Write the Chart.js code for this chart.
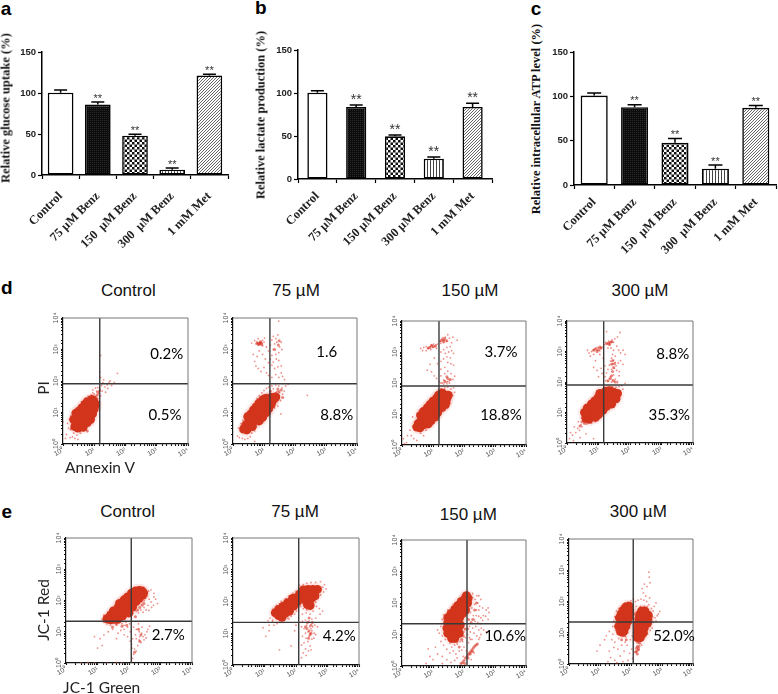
<!DOCTYPE html>
<html>
<head>
<meta charset="utf-8">
<title>Benz figure</title>
<script src="https://cdn.jsdelivr.net/npm/chart.js@4"></script>
<style>
  body { margin: 0; background: #fff; width: 778px; height: 694px; overflow: hidden; position: relative; }
  canvas { position: absolute; }
  .txt { position: absolute; white-space: pre; color: #111; }
  .letter { font: bold 19px "Liberation Sans"; color: #000; }
  .title { font: 17px "Liberation Sans"; }
  .pct { font: 15px Lato; color: #000; }
  .flow { font: 15.5px Lato; color: #222; }
  .ytitle { font: bold 12.5px "Liberation Serif"; color: #111; }
</style>
</head>
<body>
<script>
// bar panels
const barLabelsA = ['Control', '75 µM Benz', '150  µM Benz', '300  µM Benz', '1 mM Met'];
const barLabelsB = ['Control', '75 µM Benz', '150 µM Benz', '300 µM Benz', '1 mM Met'];
const barLabelsC = ['Control', '75 µM Benz', '150  µM Benz', '300  µM Benz', '1 mM Met'];
const glucose = [100.4, 85.9, 48, 6.5, 121.4];
const glucoseTop = [103.6, 89, 49.6, 8.5, 123];
const lactate = [100.4, 83.7, 49.6, 23.6, 83.7];
const lactateTop = [102.7, 86, 51.2, 25.6, 88];
const atp = [100.9, 87.8, 47.6, 18.4, 87];
const atpTop = [103.9, 90.4, 52.5, 22.5, 89.6];
const stars = ['', '**', '**', '**', '**'];
const barTicks = [0, 50, 100, 150];

// flow cytometry panels: dense part of each cloud, then the loose events
const dGate = [[15, 82], [15.5, 82], [15.6, 80], [14.6, 80]];
const eGate = [[118, 21.7], [122, 22], [125, 22], [118, 22]];

const dControlCore = [[2.4,3.6],[3,3.2],[3,4.6],[3.8,4.2],[2.8,5.8],[3.6,5.6],[4.6,5.4],[3.5,7.4],[4.4,7],[5.4,7.4],[4.2,9.4],[5.2,9.2],[6.4,9.6],[5,12],[6.2,12],[7.4,12.5],[6,15.5],[7.2,15.5],[8.4,16],[7.2,20],[8.6,20],[9.6,23],[8.4,26],[2.6,9.5],[3.2,11],[3,8],[2.2,6],[4,14],[5,18],[6,22],[8.8,9],[10,13],[11,18],[7.6,6],[6,4.8],[4.4,3.4]];
const dControlLoose = [[1.3,2],[1.5,3.2],[1.4,4.5],[1.6,6],[1.8,8],[2,10],[2.2,7],[2.4,12],[2.6,9.5],[3,14],[3.2,11],[3.6,17],[4,14],[4,22],[4.6,19],[5.2,28],[5.6,24],[6.4,33],[7,30],[8,36],[9,42],[10,38],[11,33],[12,48],[13,28],[14,40],[15,58],[13,62],[11,60],[9,52],[17,72],[19,88],[20,110],[16,130],[15,190],[26,75],[30,90],[22,64],[18,48],[16,34],[14,22],[12,18],[10.5,13],[9.5,9],[8,8],[6.6,6.5],[5.6,4.2],[4.6,3],[3.6,2.2],[2.8,1.9],[2.2,2.2],[1.7,1.6],[2.4,1.5],[3,1.4],[2,1.7],[1.2,1.5],[16,650],[32,100],[55,175],[36,72],[44,90],[27,58],[23,44],[1,5]];
const dControlFine = [[11,30],[12.5,36],[10,26],[13,44],[15,50],[9,30],[2,4],[2.2,5.6],[1.8,3],[6,2.6],[8,5.6],[11,10]];

const d75Core = [[2.2,3],[2.8,2.8],[2.6,4],[3.4,3.6],[3.2,5],[4.2,4.6],[3.6,6.4],[4.6,6],[5.6,5.8],[4.6,8],[5.8,7.8],[6.8,7.6],[5.6,10],[7,10],[8.4,9.6],[7,13],[8.6,12.8],[10,12.4],[8.6,16.5],[10.4,16],[12,15.5],[10.5,21],[12.6,20],[14.6,19],[13,25],[15.5,24],[18,22],[17,30],[21,27],[24,31],[3.8,9],[4.6,12],[5.6,15],[7,20],[9,25],[11,28],[12,10],[14,13],[9,7],[7,5.4],[17,18],[4.2,3.6],[3,7.4]];
const d75Loose = [[4,1600],[5,1900],[5.5,1500],[6,1750],[6.5,2200],[7,1400],[7.2,1650],[7.5,1500],[8,1800],[8,1450],[8.6,1600],[9,1950],[9,1300],[10,1700],[10.5,2300],[7.6,1600],[6.4,1550],[12,1200],[14,900],[16,1400],[18,2000],[20,2600],[24,2200],[26,1700],[28,2900],[22,1500],[32,1200],[36,1700],[38,1000],[30,800],[24,700],[20,1000],[18,650],[16,500],[20,400],[25,500],[30,450],[36,300],[28,280],[22,250],[18,320],[14,380],[11,500],[9,700],[7,900],[6,600],[5,420],[5.5,300],[4.5,700],[6.5,250],[8,200],[10,270],[12,180],[14,150],[18,130],[24,160],[30,130],[40,140],[36,180],[46,110],[30,8000],[1.4,1.8],[1.7,2.6],[1.6,1.6],[2,1.5],[2.4,1.4],[3,1.5],[3.6,1.7],[4,2.2],[5,2.6],[1.5,3.2],[1.8,4.4],[2.1,5.6],[2.4,7],[2.8,9],[3.2,11],[3.8,14],[4.5,18],[5.2,22],[6,28],[7,34],[8.5,42],[10,50],[12,58],[14,64],[18,70],[24,74],[30,70],[38,60],[45,48],[40,38],[50,70],[32,42],[28,16],[22,14],[18,12],[15,10],[12,8],[9,5.6],[7,4.2],[60,80],[34,24],[26,46],[20,56],[16,44],[250,35],[35,9],[5,1.2]];
const d75Fine = [[6,1600],[7,1550],[8,1600],[7.5,1750],[6.5,1450],[8.5,1450],[31,1900],[29,1400],[22,1000],[24,40],[30,46],[36,52],[28,56],[20,38],[40,30],[16,48],[12,36]];

const d150Core = [[3,3.8],[3.8,3.6],[3.4,5],[4.4,4.6],[5.2,4.6],[4.2,6.2],[5.4,6],[6.4,5.8],[5.2,8],[6.6,7.6],[7.8,7.4],[6.4,10],[8,9.6],[9.4,9],[7.8,13],[9.6,12],[11.4,11.4],[9.6,16],[11.8,15],[13.8,14],[12,20],[14.4,18.5],[16.8,17],[15,25],[18,22],[21,20],[18,31],[22,27],[26,25],[23,36],[28,32],[31,40],[4,9],[5,12],[6.6,16],[8,20],[10,26],[13,32],[11.5,8],[14,11],[8.6,6],[7,4.8],[19,16],[25,20],[15,40],[20,48]];
const d150Loose = [[4,1300],[5,1400],[6,1500],[7,1300],[8,1500],[9,1650],[10,1400],[10.5,1800],[11.5,1500],[12.5,1700],[13,1300],[8.5,1200],[6,1100],[4.6,1100],[14,1800],[17,2200],[19,2600],[21,2900],[23,2400],[25,3000],[27,2200],[22,2000],[18,1900],[30,3600],[34,2800],[40,2000],[44,3000],[36,1500],[28,1400],[22,1200],[18,1000],[25,900],[32,1000],[40,1100],[46,900],[28,700],[36,650],[22,600],[18,500],[30,460],[38,420],[46,380],[24,320],[18,280],[14,420],[11,640],[8,400],[6.5,260],[9,230],[11,170],[13,140],[18,170],[24,200],[30,240],[38,200],[44,130],[50,165],[34,120],[28,110],[22,125],[60,2400],[16,110],[20,100],[1.5,2],[1.8,3],[2,2],[2.4,1.6],[3,1.4],[1.4,1.2],[1.1,1.6],[2.2,4],[2.5,5.5],[2.2,8],[3,10],[3.4,8],[3.6,13],[4.6,16],[5,12],[6,20],[7,26],[8,20],[9,32],[11,40],[10,28],[13,50],[15,60],[18,66],[24,70],[30,74],[38,64],[46,70],[50,50],[44,40],[36,22],[30,16],[24,13],[18,11],[14,9],[10,6],[8,4.4],[6,3],[4,2.4],[5,2],[1.2,1.1],[18,100],[24,120],[30,110],[22,92],[28,95],[34,100]];
const d150Fine = [[8,1400],[10,1500],[12,1550],[7,1350],[9,1650],[18,2300],[21,2500],[24,2700],[28,2300],[22,2200],[30,140],[24,110],[36,130],[28,160],[30,50],[38,48],[24,48],[18,44]];

const d300Core = [[4,6.5],[5,6],[4.6,8.4],[5.8,8],[6.8,7.4],[5.6,11],[7,10.4],[8.2,9.6],[7,14],[8.6,13],[10,12],[8.8,18],[10.6,16.5],[12.6,15],[11,23],[13,21],[15.5,19],[13,29],[16,26],[19,24],[23,22],[14.5,36],[18,33],[22,30],[27,27],[20,42],[25,38],[32,34],[17,50],[23,52],[30,46],[40,42],[3.6,10],[4.4,14],[6,19],[7.6,24],[9.6,30],[11,42],[10,8.5],[14,12],[18,16],[26,19],[8,7],[36,28]];
const d300Loose = [[5,900],[6,1000],[7,1150],[8,1250],[9,1100],[10,1300],[11,1050],[12,1250],[13,1400],[9,1350],[7,800],[5.5,700],[4.5,1100],[15,1700],[17,2000],[19,1800],[21,2200],[23,1700],[25,2100],[27,2400],[30,2000],[33,2600],[20,1300],[25,1300],[30,1100],[38,1500],[44,1100],[50,900],[60,1100],[70,800],[40,3000],[48,4200],[18,4500],[28,800],[34,700],[26,600],[30,520],[24,480],[34,440],[28,400],[22,360],[36,340],[42,420],[50,500],[60,380],[20,260],[26,260],[32,280],[38,240],[46,220],[14,600],[11,800],[8,500],[7,300],[9,240],[12,280],[16,340],[13,190],[10,150],[16,150],[22,130],[28,115],[34,125],[40,105],[26,100],[20,105],[17,110],[24,150],[45,160],[30,170],[18,200],[1.2,1.4],[1.5,1.8],[1.3,2.2],[1.9,2.2],[2.2,3],[1.7,3.4],[2.5,2.6],[2.8,4],[2.3,5],[3,3.4],[3.4,5],[2.9,6.5],[3.4,8],[3.8,10],[4.2,4.2],[4.8,13],[5.6,17],[6.6,22],[7.6,18],[8,28],[9.4,36],[11,44],[12,34],[13,56],[16,66],[20,72],[28,70],[36,68],[45,72],[55,76],[60,58],[50,44],[45,30],[38,24],[30,17],[22,14],[16,10],[12,7.5],[10,6],[8,5],[6,4.4],[1.6,1.2],[2.6,1.5],[7,1.4],[4,2],[70,90],[40,95]];
const d300Fine = [[8,1200],[10,1150],[12,1300],[9,1000],[11,1400],[7,1100],[18,1800],[21,1900],[24,2000],[27,2100],[22,1700],[28,500],[32,400],[26,380],[30,300],[28,220],[24,130],[30,110],[34,100],[20,110],[26,160],[3,5],[3.6,4.4],[2.6,3.6],[3.2,7.6]];

const eControlCore = [[20,26],[26,24],[34,25],[44,25],[26,34],[36,34],[48,33],[62,32],[32,46],[44,46],[58,44],[76,42],[100,40],[46,62],[60,60],[78,56],[100,54],[130,62],[62,82],[80,78],[104,74],[136,84],[170,96],[100,104],[130,110],[170,128],[210,125],[140,150],[180,165],[230,170],[270,150],[210,120],[50,80],[70,105],[90,130],[120,170],[160,200],[210,210],[260,200],[290,175]];
const eControlLoose = [[160,60],[190,70],[220,80],[260,90],[300,100],[340,120],[380,140],[440,110],[500,90],[600,70],[700,110],[800,80],[400,70],[300,60],[240,50],[200,40],[170,45],[280,42],[350,50],[430,48],[520,60],[340,190],[420,200],[500,220],[620,170],[620,130],[150,200],[120,180],[90,140],[240,220],[300,240],[50,90],[40,70],[30,60],[22,44],[16,34],[70,120],[90,150],[110,190],[14,25],[16,20],[20,18],[26,16],[32,20],[40,16],[50,20],[60,18],[70,16],[80,20],[90,14],[105,18],[70,12],[55,11],[45,9],[30,12],[22,10],[16,8],[12,6],[8,7],[10,3],[14,3.6],[40,6],[70,8],[90,7],[110,10],[110,5],[140,14],[170,12],[210,10],[250,9],[280,7],[320,8],[370,10],[260,14],[200,18],[170,6],[210,5.5],[240,4.5],[190,3.6],[150,2.8],[140,1.9],[170,2.4],[130,1.4],[120,1.1],[220,7],[300,5.5],[350,6.3],[400,12],[450,15],[160,8],[130,6],[125,3],[120,4],[3,1],[5,1.05],[8,1],[20,1],[40,1.05],[60,1]];
const eControlFine = [[180,80],[220,60],[260,70],[160,30],[200,12],[240,8],[220,5],[60,15],[85,16],[40,18],[30,14],[300,80],[190,50],[150,2.2]];

const e75Core = [[22,44],[28,36],[36,32],[28,56],[38,50],[48,44],[62,50],[38,70],[50,68],[66,66],[84,72],[54,92],[70,92],[90,94],[112,100],[78,124],[100,130],[130,130],[130,170],[170,170],[160,130],[200,150],[200,110],[250,140],[260,100],[310,170],[380,200],[480,240],[320,130],[400,150],[230,80],[280,75],[190,200],[260,200],[170,230],[240,240],[340,240]];
const e75Loose = [[13,25],[15,30],[18,24],[20,18],[25,20],[14,18],[18,26],[30,25],[42,28],[55,30],[70,35],[90,40],[105,50],[60,28],[18,56],[24,76],[34,100],[46,120],[60,150],[80,180],[100,210],[130,320],[170,340],[220,380],[300,400],[420,400],[600,420],[800,340],[900,250],[750,200],[700,280],[600,160],[500,130],[420,95],[350,80],[280,60],[220,55],[170,60],[140,70],[120,90],[160,40],[210,44],[280,40],[350,50],[450,70],[550,60],[160,24],[200,26],[260,24],[320,28],[420,30],[580,40],[700,50],[150,16],[180,14],[220,18],[270,16],[300,14],[340,16],[400,18],[480,16],[200,10],[240,11],[280,10],[320,12],[380,10],[160,8],[210,7],[260,8],[320,6.5],[370,7],[420,9],[180,5],[240,5.5],[280,4],[150,4.2],[200,3.2],[250,2.8],[170,2.4],[210,2],[150,1.7],[300,3],[14,12],[9,15],[11,8],[30,3],[70,4],[90,12],[100,18]];
const e75Fine = [[220,14],[260,12],[280,9],[300,18],[250,7],[300,10],[230,22],[260,30],[330,22],[200,16]];

const e150Core = [[30,24],[40,22],[52,22],[30,34],[42,32],[56,32],[72,34],[38,46],[52,44],[68,44],[90,46],[50,62],[66,60],[86,60],[112,60],[64,84],[84,82],[108,82],[82,112],[104,108],[130,100],[110,145],[135,140],[120,170],[28,16],[38,15],[50,14],[64,15],[76,20],[30,11],[42,10.5],[56,10],[70,11],[40,7.5],[50,7.5]];
const e150Loose = [[190,150],[230,130],[260,170],[190,200],[150,190],[130,210],[120,190],[220,90],[280,100],[320,80],[400,70],[520,60],[640,50],[600,70],[300,60],[250,60],[180,70],[160,50],[200,40],[250,40],[300,38],[350,34],[420,40],[500,38],[600,30],[180,30],[230,26],[280,24],[340,22],[400,28],[150,18],[190,16],[240,18],[300,14],[360,16],[430,14],[520,12],[160,12],[210,11],[260,9],[320,8],[130,10],[150,8],[180,7],[100,12],[110,8],[90,6],[100,4],[75,6],[60,5],[50,4.6],[40,4],[35,5.4],[25,7],[20,9],[16,11],[18,6],[22,4.6],[28,3.4],[35,2.6],[45,3],[55,2.4],[70,3],[85,3.2],[12,4],[14,2.4],[20,2],[28,1.6],[38,1.3],[50,1.5],[60,1.8],[20,1.2],[10,1.6],[7,3.5],[140,5.5],[120,3],[95,2],[160,7],[24,14],[18,18],[14,14],[20,30],[22,42],[30,60],[45,90],[70,130],[95,160],[300,170],[350,130],[170,1.6],[210,2.6],[300,7],[350,10],[8,2],[6,1.2]];
const e150Fine = [[80,1.2],[90,1.3],[100,1.5],[112,1.8],[125,2],[138,2.3],[150,2.6],[165,2.9],[180,3.3],[200,3.7],[220,4.2],[245,4.6],[270,5],[105,1.2],[135,1.8],[160,2.4],[190,2.9],[140,30],[170,24],[200,30],[130,15],[110,15],[95,9],[85,7],[60,6],[70,4],[220,60],[250,100]];

const e300Core = [[42,30],[54,28],[68,28],[84,30],[48,40],[62,40],[78,40],[94,40],[56,52],[72,52],[90,54],[70,68],[88,70],[60,22],[76,22],[48,20],[40,16],[54,15],[68,16],[46,11],[58,11],[220,50],[280,50],[190,38],[240,38],[300,38],[360,36],[180,28],[230,28],[290,28],[350,26],[170,20],[220,20],[280,20],[340,20],[165,14],[210,14],[265,14],[160,10],[205,10],[250,10],[160,7],[200,7]];
const e300Loose = [[140,100],[170,110],[210,120],[260,110],[320,100],[380,80],[460,60],[560,70],[640,90],[520,50],[430,44],[500,32],[600,30],[700,35],[420,24],[520,22],[640,24],[760,40],[850,48],[400,18],[480,14],[420,12],[340,9],[290,7.5],[250,6],[220,4],[150,70],[150,45],[135,28],[200,70],[270,70],[340,70],[400,130],[300,150],[250,190],[230,260],[270,360],[410,400],[380,870],[390,600],[330,300],[120,120],[34,50],[40,60],[50,74],[60,84],[80,95],[100,105],[115,80],[115,50],[110,30],[28,24],[30,32],[26,16],[32,12],[36,9],[26,9],[20,11],[16,8],[14,6],[10,4],[8,2.6],[24,6],[30,5],[40,6.5],[55,8],[68,7.5],[80,10],[90,14],[100,20],[65,5],[50,4],[38,3],[28,3.4],[20,2.6],[22,1.6],[30,1.3],[45,1.8],[60,2.6],[75,4],[90,2.2],[105,3],[112,1.5],[80,1.3],[55,1.2],[35,1.1],[18,1.2],[95,6],[110,8]];
const e300Fine = [[165,5],[190,4.6],[160,3.6],[175,3],[150,2.5],[170,2.8],[160,2.1],[180,3.6],[150,3.2],[140,2.4],[50,8],[60,8],[75,12],[50,6],[70,6],[200,60],[260,60]];

const superscripts = ['⁰', '¹', '²', '³', '⁴'];

function addText(text, cls, x, y, rotate) {
  const el = document.createElement('div');
  el.className = 'txt ' + cls;
  el.textContent = text;
  el.style.left = x + 'px';
  el.style.top = y + 'px';
  el.style.transform = 'translate(-50%,-50%)' + (rotate ? ' rotate(' + rotate + 'deg)' : '');
  document.body.appendChild(el);
}

function addCanvas(left, top, width, height) {
  const c = document.createElement('canvas');
  c.width = width;
  c.height = height;
  c.style.left = left + 'px';
  c.style.top = top + 'px';
  document.body.appendChild(c);
  return c;
}

// bar fills
function makePattern(size, draw) {
  const p = document.createElement('canvas');
  p.width = size;
  p.height = size;
  const ctx = p.getContext('2d');
  ctx.fillStyle = '#fff';
  ctx.fillRect(0, 0, size, size);
  draw(ctx);
  return document.createElement('canvas').getContext('2d').createPattern(p, 'repeat');
}
const solidDots = makePattern(2, ctx => {
  ctx.fillStyle = '#0c0c0c';
  ctx.fillRect(0, 0, 2, 2);
  ctx.fillStyle = '#2a2a2a';
  ctx.fillRect(0, 0, 1, 1);
});
const checker = makePattern(5, ctx => {
  ctx.fillStyle = '#111';
  ctx.fillRect(0, 0, 2.5, 2.5);
  ctx.fillRect(2.5, 2.5, 2.5, 2.5);
});
const stripes = makePattern(3, ctx => {
  ctx.fillStyle = '#444';
  ctx.fillRect(0, 0, 1, 3);
});
const hatch = makePattern(3, ctx => {
  ctx.fillStyle = '#666';
  ctx.fillRect(2, 0, 1, 1);
  ctx.fillRect(1, 1, 1, 1);
  ctx.fillRect(0, 2, 1, 1);
});
const barFills = ['#fff', solidDots, checker, stripes, hatch];

const errorBars = {
  id: 'errorBars',
  afterDatasetsDraw(chart, args, opts) {
    const ctx = chart.ctx;
    const bars = chart.getDatasetMeta(0).data;
    const y = chart.scales.y;
    ctx.save();
    ctx.strokeStyle = '#000';
    ctx.lineWidth = 1.5;
    opts.tops.forEach((top, i) => {
      const x = bars[i].x;
      const py = y.getPixelForValue(top);
      ctx.beginPath();
      ctx.moveTo(x, y.getPixelForValue(chart.data.datasets[0].data[i]));
      ctx.lineTo(x, py);
      ctx.moveTo(x - opts.cap, py);
      ctx.lineTo(x + opts.cap, py);
      ctx.stroke();
      ctx.fillStyle = '#333';
      ctx.font = opts.star + 'px "Liberation Sans"';
      ctx.textAlign = 'center';
      ctx.textBaseline = 'top';
      ctx.fillText(stars[i], x, py - opts.star + 2);
    });
    ctx.restore();
  }
};

function barChart(labels, values, tops, plot) {
  const yw = 30, xh = 78, pad = 10;
  const c = addCanvas(plot.left - yw, plot.top - pad, plot.right - plot.left + yw + 4, plot.bottom - plot.top + pad + xh);
  new Chart(c, {
    type: 'bar',
    data: {
      labels: labels,
      datasets: [{
        data: values,
        backgroundColor: barFills,
        borderColor: '#000',
        borderWidth: 1.6,
        borderSkipped: false,
        barPercentage: plot.bar,
        categoryPercentage: 1
      }]
    },
    options: {
      responsive: false,
      animation: false,
      layout: { autoPadding: false, padding: { top: pad, right: 4 } },
      plugins: {
        legend: { display: false },
        tooltip: { enabled: false },
        errorBars: { tops: tops, cap: plot.cap, star: plot.star }
      },
      scales: {
        x: {
          afterFit(s) { s.height = xh; },
          border: { color: '#000', width: 1.5 },
          grid: { display: true, drawOnChartArea: false, tickLength: 4, tickColor: '#000', tickWidth: 1.2 },
          ticks: {
            autoSkip: false, minRotation: 45, maxRotation: 45, padding: plot.lab, color: '#222',
            font: { family: 'Liberation Serif', weight: 'bold', size: 12.5 }
          }
        },
        y: {
          min: 0, max: 150,
          afterFit(s) { s.width = yw; },
          afterBuildTicks(s) { s.ticks = barTicks.map(v => ({ value: v })); },
          border: { color: '#000', width: 1.5 },
          grid: { display: true, drawOnChartArea: false, tickLength: 4, tickColor: '#000', tickWidth: 1.2 },
          ticks: { padding: 2, color: '#222', font: { family: 'Liberation Sans', weight: 'bold', size: 9.5 } }
        }
      }
    },
    plugins: [errorBars]
  });
}

barChart(barLabelsA, glucose, glucoseTop, { left: 41.8, right: 228.5, top: 52, bottom: 175.7, bar: 0.69, cap: 6.5, star: 11, lab: 10 });
barChart(barLabelsB, lactate, lactateTop, { left: 297.5, right: 491.5, top: 50, bottom: 179, bar: 0.52, cap: 6.5, star: 14, lab: 6 });
barChart(barLabelsC, atp, atpTop, { left: 574, right: 776, top: 52.3, bottom: 185.7, bar: 0.67, cap: 7, star: 11, lab: 6 });

const frame = {
  id: 'frame',
  afterDraw(chart) {
    const a = chart.chartArea, ctx = chart.ctx;
    ctx.save();
    ctx.strokeStyle = '#777';
    ctx.lineWidth = 1;
    ctx.beginPath();
    ctx.moveTo(a.left, a.top);
    ctx.lineTo(a.right, a.top);
    ctx.lineTo(a.right, a.bottom);
    ctx.stroke();
    ctx.restore();
  }
};

function decadeLabel(v) {
  const e = Math.round(Math.log10(v));
  return Math.abs(Math.log10(v) - e) < 1e-6 ? '10' + superscripts[e] : '';
}

function toPoints(list) {
  return list.map(p => ({ x: p[0], y: p[1] }));
}

function flowChart(core, loose, fine, gate, plot) {
  const yw = 24, xh = 16, pad = 8;
  const c = addCanvas(plot.left - yw, plot.top - pad, plot.right - plot.left + yw + pad, plot.bottom - plot.top + pad + xh);
  const axisOpts = {
    type: 'logarithmic',
    min: 1,
    max: 10000,
    border: { color: '#111', width: 1.2 },
    grid: { display: true, drawOnChartArea: false, tickLength: 2, tickColor: '#111', tickWidth: 1.1 }
  };
  const tickFont = { family: 'Liberation Sans', size: 7 };
  new Chart(c, {
    type: 'scatter',
    data: {
      datasets: [
        { data: [{ x: gate[0], y: 1 }, { x: gate[0], y: 10000 }], showLine: true, pointRadius: 0, borderColor: '#3a3a3a', borderWidth: 1.4 },
        { data: [{ x: 1, y: gate[1] }, { x: 10000, y: gate[1] }], showLine: true, pointRadius: 0, borderColor: '#3a3a3a', borderWidth: 1.4 },
        { data: toPoints(core), pointRadius: 4.5, backgroundColor: '#d2341c', borderWidth: 0 },
        { data: toPoints(fine), pointRadius: 1.5, backgroundColor: 'rgba(215,50,35,0.6)', borderWidth: 0 },
        { data: toPoints(loose), pointRadius: 0.9, backgroundColor: 'rgba(225,70,60,0.6)', borderWidth: 0 },
        { data: toPoints(core), pointRadius: 7, backgroundColor: 'rgba(225,70,55,0.08)', borderWidth: 0 }
      ]
    },
    options: {
      responsive: false,
      animation: false,
      layout: { autoPadding: false, padding: { top: pad, right: pad } },
      plugins: { legend: { display: false }, tooltip: { enabled: false } },
      scales: {
        x: Object.assign({}, axisOpts, {
          afterFit(s) { s.height = xh; },
          ticks: { autoSkip: false, minRotation: 30, maxRotation: 30, padding: 0, color: '#555', font: tickFont, callback: decadeLabel }
        }),
        y: Object.assign({}, axisOpts, {
          afterFit(s) { s.width = yw; },
          ticks: { autoSkip: false, minRotation: 90, maxRotation: 90, crossAlign: 'center', padding: 0, color: '#555', font: tickFont, callback: decadeLabel }
        })
      }
    },
    plugins: [frame]
  });
}

flowChart(dControlCore, dControlLoose, dControlFine, dGate[0], { left: 63.3, right: 188.3, top: 318.3, bottom: 444.3 });
flowChart(d75Core, d75Loose, d75Fine, dGate[1], { left: 233.3, right: 357.7, top: 318.3, bottom: 445 });
flowChart(d150Core, d150Loose, d150Fine, dGate[2], { left: 401.7, right: 525.7, top: 320.7, bottom: 445 });
flowChart(d300Core, d300Loose, d300Fine, dGate[3], { left: 567.3, right: 693.3, top: 321, bottom: 443.3 });
flowChart(eControlCore, eControlLoose, eControlFine, eGate[0], { left: 65.7, right: 191.7, top: 538.3, bottom: 664 });
flowChart(e75Core, e75Loose, e75Fine, eGate[1], { left: 233.3, right: 359.3, top: 538.3, bottom: 665.7 });
flowChart(e150Core, e150Loose, e150Fine, eGate[2], { left: 401.7, right: 525.7, top: 539.7, bottom: 665.7 });
flowChart(e300Core, e300Loose, e300Fine, eGate[3], { left: 569.3, right: 694, top: 539.3, bottom: 665 });

// text around the plots
addText('a', 'letter', 6, 9);
addText('b', 'letter', 260.7, 8);
addText('c', 'letter', 536, 9);
addText('d', 'letter', 6.7, 288);
addText('e', 'letter', 6.7, 511.7);
addText('Relative glucose uptake (%)', 'ytitle', 6, 108, -90);
addText('Relative lactate production (%)', 'ytitle', 261, 115, -90);
addText('Relative intracellular ATP level (%)', 'ytitle', 536, 119, -90);

addText('Control', 'title', 128.3, 291);
addText('75 µM', 'title', 296, 291);
addText('150 µM', 'title', 470, 291);
addText('300 µM', 'title', 640, 291);
addText('Control', 'title', 127.7, 512);
addText('75 µM', 'title', 295, 512);
addText('150 µM', 'title', 468.3, 515);
addText('300 µM', 'title', 638.3, 511.7);

addText('0.2%', 'pct', 166.7, 353.3);
addText('0.5%', 'pct', 165, 414.3);
addText('1.6', 'pct', 326.7, 351);
addText('8.8%', 'pct', 336.7, 414.3);
addText('3.7%', 'pct', 501, 351);
addText('18.8%', 'pct', 501, 414);
addText('8.8%', 'pct', 672.7, 353);
addText('35.3%', 'pct', 669.3, 414);
addText('2.7%', 'pct', 168.3, 634.3);
addText('4.2%', 'pct', 339.3, 635.3);
addText('10.6%', 'pct', 505.3, 635.3);
addText('52.0%', 'pct', 674, 635.3);

addText('PI', 'flow', 43.3, 388, -90);
addText('Annexin V', 'flow', 100, 466.7);
addText('JC-1 Red', 'flow', 42.7, 610, -90);
addText('JC-1 Green', 'flow', 101.7, 686.7);
</script>
</body>
</html>
